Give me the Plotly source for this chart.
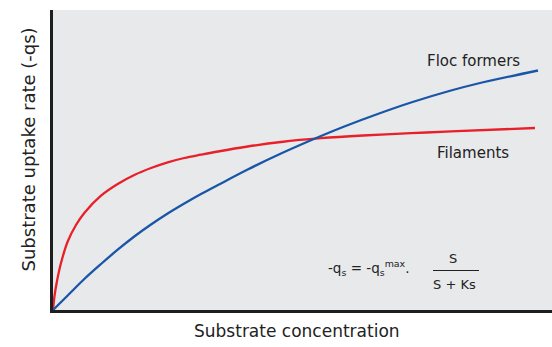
import plotly.graph_objects as go

# Substrate concentration (arbitrary units) and uptake rate (arbitrary units)
filaments_s = [0, 1.5, 4, 8, 14.7, 23, 31.3, 48, 64.7, 81.3, 98, 114.7, 131.3, 148, 165, 194.7, 228, 268, 310, 358, 398, 482]
filaments_q = [0, 14, 29, 47, 68.5, 85, 97, 114.3, 126, 135, 142, 147.7, 152, 155.3, 158.5, 163.5, 168, 171.8, 174.5, 176.8, 178.6, 182]

floc_s = [0, 14.7, 31.3, 48, 64.7, 81.3, 98, 114.7, 131.3, 148, 165, 194.7, 228, 268, 291.3, 324.7, 358, 398, 423, 485]
floc_q = [0, 14.5, 31, 46, 60.3, 73.5, 85.5, 96.5, 106.5, 116, 125, 140.5, 156.5, 174, 183.5, 196, 207.5, 219.5, 226, 239.5]

x_title = "Substrate concentration"
y_title = "Substrate uptake rate (-qs)"
floc_label = "Floc formers"
fil_label = "Filaments"

FONT = "DejaVu Sans"
TXT = "#222222"

fig = go.Figure()
fig.add_trace(go.Scatter(x=filaments_s, y=filaments_q, mode="lines",
                         line=dict(color="#e8202a", width=2.3, shape="spline", smoothing=1.0),
                         showlegend=False, hoverinfo="skip"))
fig.add_trace(go.Scatter(x=floc_s, y=floc_q, mode="lines",
                         line=dict(color="#1a56a8", width=2.3, shape="spline", smoothing=1.0),
                         showlegend=False, hoverinfo="skip"))

ann = []
ann.append(dict(x=420, y=249, text=floc_label, showarrow=False,
                font=dict(family=FONT, size=15, color=TXT)))
ann.append(dict(x=420, y=157, text=fil_label, showarrow=False,
                font=dict(family=FONT, size=15, color=TXT)))
ann.append(dict(x=316, y=42, xanchor="center",
                text="-q<sub>s</sub> = -q<sub>s</sub><sup>max</sup>.",
                showarrow=False, font=dict(family=FONT, size=13.5, color=TXT)))
ann.append(dict(x=400, y=52, text="S", showarrow=False,
                font=dict(family=FONT, size=13, color=TXT)))
ann.append(dict(x=401, y=26, text="S + Ks", showarrow=False,
                font=dict(family=FONT, size=13, color=TXT)))
# axis titles
ann.append(dict(x=0.489, y=0, xref="paper", yref="paper", yanchor="middle", yshift=-21,
                text=x_title, showarrow=False, font=dict(family=FONT, size=17, color=TXT)))
ann.append(dict(x=0, y=0.535, xref="paper", yref="paper", xanchor="center", xshift=-25,
                textangle=-90, text=y_title, showarrow=False,
                font=dict(family=FONT, size=18, color=TXT)))

fig.update_layout(
    width=552, height=347,
    margin=dict(l=53, r=0, t=10, b=37),
    paper_bgcolor="white",
    plot_bgcolor="#e8e9eb",
    annotations=ann,
    shapes=[dict(type="line", x0=380, x1=426, y0=39.5, y1=39.5, xref="x", yref="y",
                 line=dict(color=TXT, width=1.2))],
    xaxis=dict(range=[0, 499], showgrid=False, zeroline=False, showticklabels=False,
               ticks="", showline=True, linecolor="#1e1e1e", linewidth=3, automargin=False),
    yaxis=dict(range=[0, 300], showgrid=False, zeroline=False, showticklabels=False,
               ticks="", showline=True, linecolor="#1e1e1e", linewidth=3, automargin=False),
)

fig.write_html("out.html", config={"displayModeBar": False},
               post_script="document.body.style.margin='0';")
